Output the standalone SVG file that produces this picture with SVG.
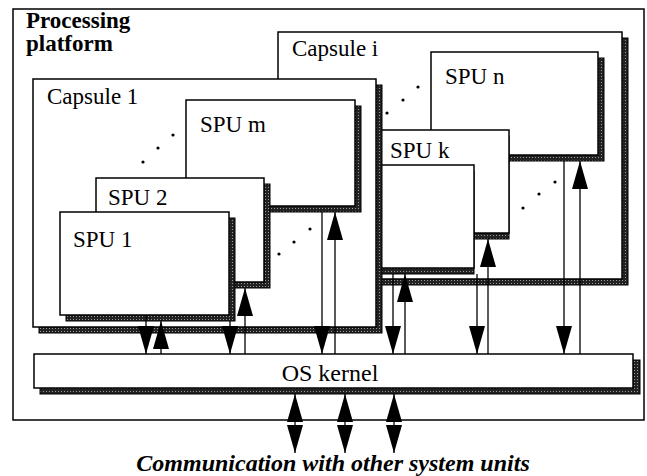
<svg xmlns="http://www.w3.org/2000/svg" width="647" height="476" viewBox="0 0 647 476">
<style>
.box{fill:#fff;stroke:#000;stroke-width:1.5}
.sh{fill:url(#hatch);stroke:#000;stroke-width:1}
.lbl{font-family:"Liberation Serif","Times New Roman",serif;font-size:23px;fill:#000}
.title{font-family:"Liberation Serif","Times New Roman",serif;font-size:23px;font-weight:bold;fill:#000}
.cap{font-family:"Liberation Serif","Times New Roman",serif;font-size:24px;font-weight:bold;font-style:italic;fill:#000}
.ln{stroke:#000;stroke-width:1.3;fill:none;marker-end:url(#ah)}
.dbl{stroke:#000;stroke-width:1.3;fill:none;marker-start:url(#ah);marker-end:url(#ah)}
.dot{fill:#000}
</style>
<defs>
<pattern id="hatch" width="3" height="3" patternUnits="userSpaceOnUse">
<rect width="3" height="3" fill="#222"/>
<rect x="1" y="1" width="1" height="1" fill="#999"/>
</pattern>
<marker id="ah" viewBox="0 0 28 16" refX="28" refY="8" markerWidth="28" markerHeight="16" markerUnits="userSpaceOnUse" orient="auto-start-reverse">
<path d="M0,0 L28,8 L0,16 z" fill="#000"/>
</marker>
</defs>
<rect width="647" height="476" fill="#fff"/>
<g id="platform">
<rect class="box" x="13" y="9" width="631" height="411"/>
<text class="title" x="26" y="28">Processing</text>
<text class="title" x="26" y="51">platform</text>
</g>
<g id="capsule-i">
<rect class="sh" x="284" y="38" width="344" height="247"/>
<rect class="box" x="278" y="32" width="344" height="247"/>
<text class="lbl" x="292" y="56">Capsule i</text>
</g>
<g id="spu-n">
<rect class="sh" x="437" y="58" width="167" height="103"/>
<rect class="box" x="431" y="52" width="167" height="103"/>
<text class="lbl" x="445" y="84">SPU n</text>
</g>
<g id="spu-k">
<rect class="sh" x="366" y="136" width="143" height="103"/>
<rect class="box" x="360" y="130" width="149" height="103"/>
<text class="lbl" x="390" y="158">SPU k</text>
</g>
<g id="spu-k-front">
<rect class="sh" x="366" y="171" width="108" height="103"/>
<rect class="box" x="360" y="165" width="114" height="103"/>
</g>
<g id="capsule-1">
<rect class="sh" x="39" y="85" width="343" height="248"/>
<rect class="box" x="33" y="79" width="343" height="248"/>
<text class="lbl" x="47" y="104">Capsule 1</text>
</g>
<g id="spu-m">
<rect class="sh" x="192" y="106" width="169" height="106"/>
<rect class="box" x="186" y="100" width="169" height="106"/>
<text class="lbl" x="200" y="132">SPU m</text>
</g>
<g id="spu-2">
<rect class="sh" x="102" y="184" width="168" height="104"/>
<rect class="box" x="96" y="178" width="168" height="104"/>
<text class="lbl" x="108" y="205">SPU 2</text>
</g>
<g id="spu-1">
<rect class="sh" x="66" y="218" width="169" height="103"/>
<rect class="box" x="60" y="212" width="169" height="103"/>
<text class="lbl" x="73" y="247">SPU 1</text>
</g>
<g id="os-kernel">
<rect class="sh" x="40" y="360" width="600" height="34"/>
<rect class="box" x="34" y="354" width="599" height="34"/>
<text class="lbl" x="330" y="381" text-anchor="middle" style="font-size:24px">OS kernel</text>
</g>
<g id="ellipsis">
<circle class="dot" cx="143" cy="162" r="1.6"/>
<circle class="dot" cx="158" cy="148" r="1.6"/>
<circle class="dot" cx="173" cy="135" r="1.6"/>
<circle class="dot" cx="279" cy="254" r="1.6"/>
<circle class="dot" cx="294" cy="242" r="1.6"/>
<circle class="dot" cx="310" cy="229" r="1.6"/>
<circle class="dot" cx="387" cy="113" r="1.6"/>
<circle class="dot" cx="403" cy="100" r="1.6"/>
<circle class="dot" cx="418" cy="87" r="1.6"/>
<circle class="dot" cx="523" cy="208" r="1.6"/>
<circle class="dot" cx="539" cy="194" r="1.6"/>
<circle class="dot" cx="555" cy="182" r="1.6"/>
</g>
<g id="connectors">
<line class="ln" x1="146" y1="315" x2="146" y2="354"/>
<line class="ln" x1="161" y1="354" x2="161" y2="321"/>
<line class="ln" x1="230" y1="321" x2="230" y2="354"/>
<line class="ln" x1="245" y1="354" x2="245" y2="288"/>
<line class="ln" x1="322" y1="212" x2="322" y2="354"/>
<line class="ln" x1="335" y1="354" x2="335" y2="212"/>
<line class="ln" x1="393" y1="274" x2="393" y2="354"/>
<line class="ln" x1="405" y1="354" x2="405" y2="274"/>
<line class="ln" x1="477" y1="274" x2="477" y2="354"/>
<line class="ln" x1="488" y1="354" x2="488" y2="239"/>
<line class="ln" x1="564" y1="161" x2="564" y2="354"/>
<line class="ln" x1="580" y1="354" x2="580" y2="161"/>
<line class="dbl" x1="295" y1="394" x2="295" y2="453"/>
<line class="dbl" x1="345" y1="394" x2="345" y2="453"/>
<line class="dbl" x1="394" y1="394" x2="394" y2="453"/>
</g>
<g id="caption">
<text class="cap" x="333" y="471" text-anchor="middle">Communication with other system units</text>
</g>
</svg>
